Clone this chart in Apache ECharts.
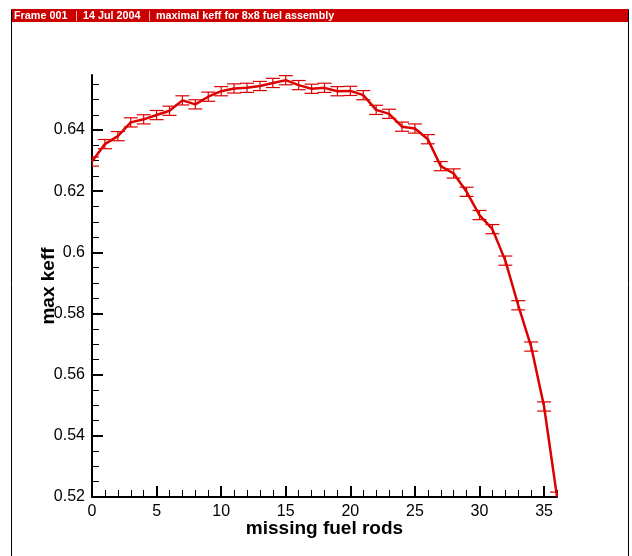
<!DOCTYPE html>
<html>
<head>
<meta charset="utf-8">
<script src="https://cdn.jsdelivr.net/npm/echarts@6/dist/echarts.min.js"></script>
<style>
html, body { margin: 0; padding: 0; background: #fff; }
#chartmain { width: 632px; height: 556px; }
</style>
</head>
<body>
<div id="chartmain"></div>
<script>
// missing fuel rods vs. maximal keff
var rods = [0, 1, 2, 3, 4, 5, 6, 7, 8, 9, 10, 11, 12, 13, 14, 15, 16, 17, 18,
    19, 20, 21, 22, 23, 24, 25, 26, 27, 28, 29, 30, 31, 32, 33, 34, 35, 36];
var keff = [0.6297, 0.6354, 0.6380, 0.6425, 0.6435, 0.6449, 0.6463, 0.6497, 0.6484, 0.6509,
    0.6527, 0.6536, 0.6538, 0.6544, 0.6554, 0.6563, 0.6547, 0.6535, 0.6538, 0.6527,
    0.6528, 0.6514, 0.6466, 0.6453, 0.6411, 0.6405, 0.6370, 0.6282, 0.6258, 0.6198,
    0.6122, 0.6076, 0.5973, 0.5827, 0.5692, 0.5496, 0.5201];
var keffErr = [0.0015, 0.0015, 0.0015, 0.0015, 0.0015, 0.0015, 0.0015, 0.0015, 0.0015, 0.0015,
    0.0015, 0.0015, 0.0015, 0.0015, 0.0015, 0.0015, 0.0015, 0.0015, 0.0015, 0.0015,
    0.0015, 0.0015, 0.0015, 0.0015, 0.0015, 0.0015, 0.0015, 0.0015, 0.0015, 0.0015,
    0.0015, 0.0015, 0.0015, 0.0015, 0.0015, 0.0015, 0.0015];

// tick labels
var xTicks = [0, 5, 10, 15, 20, 25, 30, 35];
var xMinor = [1, 2, 3, 4, 6, 7, 8, 9, 11, 12, 13, 14, 16, 17, 18, 19, 21, 22, 23, 24,
    26, 27, 28, 29, 31, 32, 33, 34, 36];
var yTicks = [0.52, 0.54, 0.56, 0.58, 0.6, 0.62, 0.64];
var yMinor = [0.525, 0.53, 0.535, 0.545, 0.55, 0.555, 0.565, 0.57, 0.575, 0.585, 0.59, 0.595,
    0.605, 0.61, 0.615, 0.625, 0.63, 0.635, 0.645, 0.65, 0.655];

var red = '#dd0000';
var font = 'Liberation Sans';

var lineData = rods.map(function (r, i) { return [r, keff[i]]; });
var errData = rods.map(function (r, i) { return [r, keff[i] - keffErr[i], keff[i] + keffErr[i]]; });

function renderErr(params, api) {
    var x = api.value(0);
    var lo = api.coord([x, api.value(1)]);
    var hi = api.coord([x, api.value(2)]);
    var w = 7;
    var st = { stroke: red, lineWidth: 1.2 };
    return {
        type: 'group',
        children: [
            { type: 'line', shape: { x1: hi[0], y1: hi[1], x2: lo[0], y2: lo[1] }, style: st },
            { type: 'line', shape: { x1: hi[0] - w, y1: hi[1], x2: hi[0] + w, y2: hi[1] }, style: st },
            { type: 'line', shape: { x1: lo[0] - w, y1: lo[1], x2: lo[0] + w, y2: lo[1] }, style: st }
        ]
    };
}

var headerFont = 'bold 10.8px "Liberation Sans"';

var option = {
    animation: false,
    backgroundColor: '#fff',
    grid: { left: 92, right: 75, top: 75, bottom: 59 },
    graphic: [
        { type: 'rect', shape: { x: 11.5, y: 9.5, width: 617, height: 570 },
          style: { fill: null, stroke: '#000', lineWidth: 1 }, silent: true },
        { type: 'rect', shape: { x: 12, y: 9, width: 616, height: 13 },
          style: { fill: '#cc0000' }, silent: true },
        { type: 'text', x: 14, y: 16,
          style: { text: 'Frame 001', fill: '#fff', font: headerFont, verticalAlign: 'middle' } },
        { type: 'line', shape: { x1: 76.5, y1: 11, x2: 76.5, y2: 21 },
          style: { stroke: '#f0b0b0', lineWidth: 1 } },
        { type: 'text', x: 83, y: 16,
          style: { text: '14 Jul 2004', fill: '#fff', font: headerFont, verticalAlign: 'middle' } },
        { type: 'line', shape: { x1: 149.5, y1: 11, x2: 149.5, y2: 21 },
          style: { stroke: '#f0b0b0', lineWidth: 1 } },
        { type: 'text', x: 156, y: 16,
          style: { text: 'maximal keff for 8x8 fuel assembly', fill: '#fff', font: headerFont, verticalAlign: 'middle' } }
    ],
    xAxis: [{
        type: 'value',
        min: 0,
        max: 36,
        position: 'bottom',
        name: 'missing fuel rods',
        nameLocation: 'middle',
        nameGap: 22,
        nameMoveOverlap: false,
        nameTextStyle: { color: '#000', fontFamily: font, fontWeight: 'bold', fontSize: 19 },
        splitLine: { show: false },
        axisLine: { lineStyle: { color: '#000', width: 2 } },
        axisTick: { inside: true, length: 11, customValues: xTicks, lineStyle: { color: '#000', width: 2 } },
        axisLabel: { customValues: xTicks, margin: 7, color: '#000', fontFamily: font, fontSize: 16 }
    }, {
        type: 'value',
        min: 0,
        max: 36,
        position: 'bottom',
        splitLine: { show: false },
        axisLine: { show: false },
        axisTick: { inside: true, length: 7, customValues: xMinor, lineStyle: { color: '#000', width: 1 } },
        axisLabel: { show: false }
    }],
    yAxis: [{
        type: 'value',
        min: 0.52,
        max: 0.658,
        position: 'left',
        name: 'max keff',
        nameLocation: 'middle',
        nameGap: 34,
        nameMoveOverlap: false,
        nameTextStyle: { color: '#000', fontFamily: font, fontWeight: 'bold', fontSize: 19 },
        splitLine: { show: false },
        axisLine: { lineStyle: { color: '#000', width: 2 } },
        axisTick: { inside: true, length: 11, customValues: yTicks, lineStyle: { color: '#000', width: 2 } },
        axisLabel: { customValues: yTicks, margin: 7, color: '#000', fontFamily: font, fontSize: 16 }
    }, {
        type: 'value',
        min: 0.52,
        max: 0.658,
        position: 'left',
        splitLine: { show: false },
        axisLine: { show: false },
        axisTick: { inside: true, length: 7, customValues: yMinor, lineStyle: { color: '#000', width: 1 } },
        axisLabel: { show: false }
    }],
    series: [{
        type: 'custom',
        renderItem: renderErr,
        data: errData,
        clip: true,
        xAxisIndex: 0,
        yAxisIndex: 0,
        z: 2
    }, {
        type: 'line',
        data: lineData,
        xAxisIndex: 0,
        yAxisIndex: 0,
        showSymbol: false,
        symbol: 'none',
        clip: true,
        lineStyle: { color: red, width: 2.5 },
        z: 3
    }]
};

var myChart = echarts.init(document.getElementById('chartmain'));
myChart.setOption(option);
</script>
</body>
</html>
